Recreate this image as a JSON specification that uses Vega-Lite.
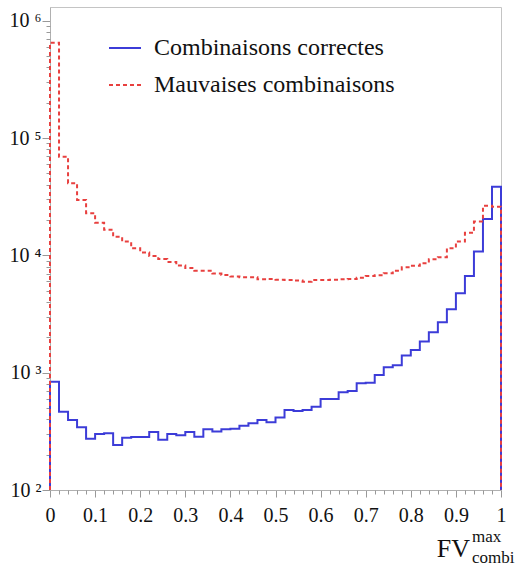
{
  "$schema": "https://vega.github.io/schema/vega-lite/v6.json",
  "width": 451,
  "height": 483,
  "autosize": {"type": "none"},
  "padding": {"left": 50, "top": 7, "right": 15, "bottom": 78},
  "background": "white",
  "config": {
    "view": {"stroke": "#c4c4c4", "strokeWidth": 1},
    "font": "Liberation Serif",
    "axis": {"grid": false, "domainColor": "#b0b0b0", "tickColor": "#999999", "labelColor": "#111111", "labelFont": "Liberation Serif", "labelFlush": false, "title": null}
  },
  "data": {"values": [
    {"k": 0, "x": 0, "Combinaisons correctes": 100, "Mauvaises combinaisons": 100},
    {"k": 1, "x": 0.00, "Combinaisons correctes": 838, "Mauvaises combinaisons": 650000},
    {"k": 2, "x": 0.02, "Combinaisons correctes": 465, "Mauvaises combinaisons": 69300},
    {"k": 3, "x": 0.04, "Combinaisons correctes": 395, "Mauvaises combinaisons": 41200},
    {"k": 4, "x": 0.06, "Combinaisons correctes": 342, "Mauvaises combinaisons": 29700},
    {"k": 5, "x": 0.08, "Combinaisons correctes": 273, "Mauvaises combinaisons": 22900},
    {"k": 6, "x": 0.10, "Combinaisons correctes": 300, "Mauvaises combinaisons": 19000},
    {"k": 7, "x": 0.12, "Combinaisons correctes": 304, "Mauvaises combinaisons": 16500},
    {"k": 8, "x": 0.14, "Combinaisons correctes": 242, "Mauvaises combinaisons": 14400},
    {"k": 9, "x": 0.16, "Combinaisons correctes": 279, "Mauvaises combinaisons": 13100},
    {"k": 10, "x": 0.18, "Combinaisons correctes": 283, "Mauvaises combinaisons": 11500},
    {"k": 11, "x": 0.20, "Combinaisons correctes": 283, "Mauvaises combinaisons": 10600},
    {"k": 12, "x": 0.22, "Combinaisons correctes": 312, "Mauvaises combinaisons": 9900},
    {"k": 13, "x": 0.24, "Combinaisons correctes": 268, "Mauvaises combinaisons": 9300},
    {"k": 14, "x": 0.26, "Combinaisons correctes": 300, "Mauvaises combinaisons": 8800},
    {"k": 15, "x": 0.28, "Combinaisons correctes": 293, "Mauvaises combinaisons": 8200},
    {"k": 16, "x": 0.30, "Combinaisons correctes": 312, "Mauvaises combinaisons": 7800},
    {"k": 17, "x": 0.32, "Combinaisons correctes": 285, "Mauvaises combinaisons": 7400},
    {"k": 18, "x": 0.34, "Combinaisons correctes": 329, "Mauvaises combinaisons": 7400},
    {"k": 19, "x": 0.36, "Combinaisons correctes": 316, "Mauvaises combinaisons": 7000},
    {"k": 20, "x": 0.38, "Combinaisons correctes": 329, "Mauvaises combinaisons": 6800},
    {"k": 21, "x": 0.40, "Combinaisons correctes": 333, "Mauvaises combinaisons": 6600},
    {"k": 22, "x": 0.42, "Combinaisons correctes": 353, "Mauvaises combinaisons": 6500},
    {"k": 23, "x": 0.44, "Combinaisons correctes": 370, "Mauvaises combinaisons": 6500},
    {"k": 24, "x": 0.46, "Combinaisons correctes": 395, "Mauvaises combinaisons": 6250},
    {"k": 25, "x": 0.48, "Combinaisons correctes": 378, "Mauvaises combinaisons": 6300},
    {"k": 26, "x": 0.50, "Combinaisons correctes": 415, "Mauvaises combinaisons": 6200},
    {"k": 27, "x": 0.52, "Combinaisons correctes": 481, "Mauvaises combinaisons": 6170},
    {"k": 28, "x": 0.54, "Combinaisons correctes": 471, "Mauvaises combinaisons": 6100},
    {"k": 29, "x": 0.56, "Combinaisons correctes": 481, "Mauvaises combinaisons": 5970},
    {"k": 30, "x": 0.58, "Combinaisons correctes": 513, "Mauvaises combinaisons": 6170},
    {"k": 31, "x": 0.60, "Combinaisons correctes": 597, "Mauvaises combinaisons": 6170},
    {"k": 32, "x": 0.62, "Combinaisons correctes": 597, "Mauvaises combinaisons": 6200},
    {"k": 33, "x": 0.64, "Combinaisons correctes": 681, "Mauvaises combinaisons": 6250},
    {"k": 34, "x": 0.66, "Combinaisons correctes": 698, "Mauvaises combinaisons": 6290},
    {"k": 35, "x": 0.68, "Combinaisons correctes": 811, "Mauvaises combinaisons": 6460},
    {"k": 36, "x": 0.70, "Combinaisons correctes": 822, "Mauvaises combinaisons": 6670},
    {"k": 37, "x": 0.72, "Combinaisons correctes": 956, "Mauvaises combinaisons": 6760},
    {"k": 38, "x": 0.74, "Combinaisons correctes": 1110, "Mauvaises combinaisons": 7030},
    {"k": 39, "x": 0.76, "Combinaisons correctes": 1160, "Mauvaises combinaisons": 7410},
    {"k": 40, "x": 0.78, "Combinaisons correctes": 1400, "Mauvaises combinaisons": 7910},
    {"k": 41, "x": 0.80, "Combinaisons correctes": 1560, "Mauvaises combinaisons": 8170},
    {"k": 42, "x": 0.82, "Combinaisons correctes": 1840, "Mauvaises combinaisons": 8570},
    {"k": 43, "x": 0.84, "Combinaisons correctes": 2210, "Mauvaises combinaisons": 9270},
    {"k": 44, "x": 0.86, "Combinaisons correctes": 2690, "Mauvaises combinaisons": 9640},
    {"k": 45, "x": 0.88, "Combinaisons correctes": 3470, "Mauvaises combinaisons": 11500},
    {"k": 46, "x": 0.90, "Combinaisons correctes": 4750, "Mauvaises combinaisons": 13100},
    {"k": 47, "x": 0.92, "Combinaisons correctes": 6670, "Mauvaises combinaisons": 15600},
    {"k": 48, "x": 0.94, "Combinaisons correctes": 10800, "Mauvaises combinaisons": 19400},
    {"k": 49, "x": 0.96, "Combinaisons correctes": 20400, "Mauvaises combinaisons": 26500},
    {"k": 50, "x": 0.98, "Combinaisons correctes": 38500, "Mauvaises combinaisons": 26000},
    {"k": 51, "x": 1, "Combinaisons correctes": 38500, "Mauvaises combinaisons": 26000},
    {"k": 52, "x": 1, "Combinaisons correctes": 100, "Mauvaises combinaisons": 100}
  ]},
  "layer": [
    {
      "transform": [{"fold": ["Combinaisons correctes", "Mauvaises combinaisons"], "as": ["serie", "n"]}],
      "mark": {"type": "line", "interpolate": "step-after", "strokeWidth": 2},
      "encoding": {
        "x": {"field": "x", "type": "quantitative", "scale": {"domain": [0, 1], "nice": false, "zero": false},
              "axis": {"orient": "bottom", "values": [0, 0.1, 0.2, 0.3, 0.4, 0.5, 0.6, 0.7, 0.8, 0.9, 1], "format": ".1~f", "tickSize": 7, "labelPadding": 8, "labelFontSize": 20, "labelFont": "Liberation Serif", "labelColor": "#111111", "labelFlush": false}},
        "y": {"field": "n", "type": "quantitative", "scale": {"type": "log", "domain": [100, 1310000], "nice": false},
              "axis": {"orient": "left", "values": [100, 1000, 10000, 100000, 1000000], "tickSize": 8, "labelPadding": 1, "labelFontSize": 20, "labelFont": "Liberation Serif", "labelColor": "#111111", "labelFlush": false,
                       "labelExpr": "'10 ' + ['²','³','⁴','⁵','⁶'][round(log(datum.value)/LN10) - 2]"}},
        "order": {"field": "k", "type": "quantitative"},
        "color": {"field": "serie", "type": "nominal", "scale": {"domain": ["Combinaisons correctes", "Mauvaises combinaisons"], "range": ["#3c3cd8", "#e8403f"]},
                  "legend": {"orient": "none", "legendX": 58, "legendY": 24, "title": null, "symbolType": "stroke", "symbolSize": 1024, "symbolStrokeWidth": 2, "labelFontSize": 24, "labelFont": "Liberation Serif", "labelColor": "#111111", "labelOffset": 12, "rowPadding": 8, "padding": 0, "labelLimit": 400}},
        "strokeDash": {"field": "serie", "type": "nominal", "scale": {"domain": ["Combinaisons correctes", "Mauvaises combinaisons"], "range": [[1, 0], [4, 3]]},
                  "legend": {"orient": "none", "legendX": 58, "legendY": 24, "title": null, "symbolType": "stroke", "symbolSize": 1024, "symbolStrokeWidth": 2, "labelFontSize": 24, "labelFont": "Liberation Serif", "labelColor": "#111111", "labelOffset": 12, "rowPadding": 8, "padding": 0, "labelLimit": 400}}
      }
    },
    {
      "transform": [{"fold": ["Combinaisons correctes", "Mauvaises combinaisons"], "as": ["serie", "n"]}],
      "mark": {"type": "line", "opacity": 0},
      "encoding": {
        "x": {"field": "x", "type": "quantitative",
              "axis": {"orient": "bottom", "values": [0.02, 0.04, 0.06, 0.08, 0.12, 0.14, 0.16, 0.18, 0.22, 0.24, 0.26, 0.28, 0.32, 0.34, 0.36, 0.38, 0.42, 0.44, 0.46, 0.48, 0.52, 0.54, 0.56, 0.58, 0.62, 0.64, 0.66, 0.68, 0.72, 0.74, 0.76, 0.78, 0.82, 0.84, 0.86, 0.88, 0.92, 0.94, 0.96, 0.98], "labels": false, "domain": false, "tickSize": 4}},
        "y": {"field": "n", "type": "quantitative",
              "axis": {"orient": "left", "values": [200, 300, 400, 500, 600, 700, 800, 900, 2000, 3000, 4000, 5000, 6000, 7000, 8000, 9000, 20000, 30000, 40000, 50000, 60000, 70000, 80000, 90000, 200000, 300000, 400000, 500000, 600000, 700000, 800000, 900000], "labels": false, "domain": false, "tickSize": 4}},
        "detail": {"field": "serie", "type": "nominal"},
        "order": {"field": "k", "type": "quantitative"}
      }
    },
    {
      "data": {"values": [{"t": "FV"}]},
      "mark": {"type": "text", "align": "right", "baseline": "alphabetic", "dx": -31, "dy": 67, "fontSize": 26, "font": "Liberation Serif", "color": "#111111"},
      "encoding": {"x": {"datum": 1, "type": "quantitative", "axis": null}, "y": {"datum": 100, "type": "quantitative", "axis": null}, "text": {"field": "t"}}
    },
    {
      "data": {"values": [{"t": "max"}]},
      "mark": {"type": "text", "align": "left", "baseline": "alphabetic", "dx": -29, "dy": 52, "fontSize": 17, "font": "Liberation Serif", "color": "#111111"},
      "encoding": {"x": {"datum": 1, "type": "quantitative", "axis": null}, "y": {"datum": 100, "type": "quantitative", "axis": null}, "text": {"field": "t"}}
    },
    {
      "data": {"values": [{"t": "combi"}]},
      "mark": {"type": "text", "align": "left", "baseline": "alphabetic", "dx": -29, "dy": 73, "fontSize": 17, "font": "Liberation Serif", "color": "#111111"},
      "encoding": {"x": {"datum": 1, "type": "quantitative", "axis": null}, "y": {"datum": 100, "type": "quantitative", "axis": null}, "text": {"field": "t"}}
    }
  ],
  "resolve": {"axis": {"x": "independent", "y": "independent"}}
}
